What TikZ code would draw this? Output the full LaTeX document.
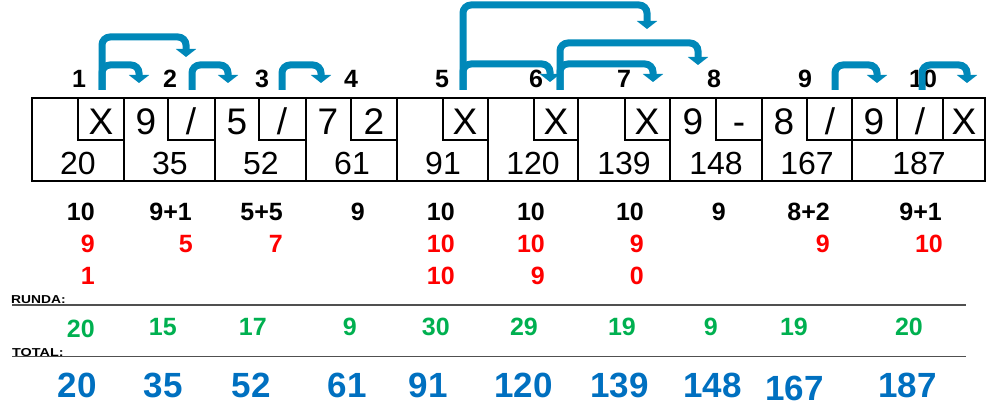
\documentclass[tikz,border=0pt]{standalone}
\usepackage{fontspec}
\setmainfont{Liberation Sans}
\usetikzlibrary{arrows.meta}
\definecolor{arrowblue}{RGB}{0,136,185}
\definecolor{pinred}{RGB}{255,0,0}
\definecolor{rundagreen}{RGB}{0,176,80}
\definecolor{totalblue}{RGB}{0,112,192}
\definecolor{rulegrey}{RGB}{80,80,80}

\begin{document}
\begin{tikzpicture}[
	x=1pt, y=-1pt,
	sheet line/.style={line width=2pt},
	roll arrow/.style={draw=arrowblue, line width=7pt, rounded corners=8pt,
		-{Triangle[width=20pt,length=8pt]}},
	frame label/.style={font=\fontsize{25}{25}\selectfont\bfseries, anchor=base, inner sep=0pt},
	mark node/.style={font=\fontsize{37}{37}\selectfont, anchor=base, inner sep=0pt},
	score node/.style={font=\fontsize{32}{32}\selectfont, anchor=base, inner sep=0pt},
	pins node/.style={font=\fontsize{25}{25}\selectfont\bfseries, anchor=base east, inner sep=0pt},
	total node/.style={font=\fontsize{35}{35}\selectfont\bfseries, anchor=base east, inner sep=0pt, text=totalblue},
	caption node/.style={font=\fontsize{11.5}{11.5}\selectfont\bfseries, anchor=base west, inner sep=0pt},
	rule line/.style={draw=rulegrey, line width=1.5pt}
	]
	\newcommand{\rollarrow}[3]{
		\draw[roll arrow] (#1) -- (#1 |- 0,#2) -| (#3);
	}
	\useasboundingbox (0,0) rectangle (990,414);

	% score sheet
	\draw[sheet line] (32,98) rectangle (985,181);
	\foreach \x in {124,215,306,397,488,578,670,762,852}
		\draw[sheet line] (\x,98) -- (\x,181);
	\foreach \x/\r in {78/124,168/215,259/306,351/397,443/488,534/578,625/670,716/762,807/852}
		\draw[sheet line] (\x,98) -- (\x,140) -- (\r,140);
	\draw[sheet line] (852,140) -- (985,140);
	\draw[sheet line] (897,98) -- (897,140);
	\draw[sheet line] (943,98) -- (943,140);

	\foreach \x/\m [count=\i] in {101/X,146/9,191/{/},237/5,282/{/},328/7,374/2,465/X,556/X,647/X,
		693/9,739/-,784/8,830/{/},874/9,920/{/},964/X}
		\node[mark node] (mark-\i) at (\x,135) {\m};
	\foreach \x/\s [count=\i] in {78/20,170/35,261/52,352/61,443/91,533/120,624/139,716/148,807/167,919/187}
		\node[score node] (score-\i) at (\x,175) {\s};

	% frame numbers
	\foreach \x [count=\i] in {79,170,262,351,442,536,624,714,805,923}
		\node[frame label] (frame-\i) at (\x,88) {\i};

	% bonus balls
	\coordinate (s1) at (102,90);
	\coordinate (s2) at (192,90);
	\coordinate (s3) at (282,90);
	\coordinate (s5) at (463,90);
	\coordinate (s6) at (560,90);
	\coordinate (s9) at (835,90);
	\coordinate (s10) at (922,90);
	\coordinate (t1a) at (139,83);
	\coordinate (t1b) at (186,57);
	\coordinate (t2) at (228,83);
	\coordinate (t3) at (321,83);
	\coordinate (t5a) at (550,82);
	\coordinate (t5b) at (647,29);
	\coordinate (t6a) at (653,82);
	\coordinate (t6b) at (698,65);
	\coordinate (t9) at (877,83);
	\coordinate (t10) at (967,83);
	\rollarrow{s1}{37}{t1b}
	\rollarrow{s1}{65}{t1a}
	\rollarrow{s2}{65}{t2}
	\rollarrow{s3}{65}{t3}
	\rollarrow{s5}{5}{t5b}
	\rollarrow{s5}{64}{t5a}
	\rollarrow{s6}{43}{t6b}
	\rollarrow{s6}{64}{t6a}
	\rollarrow{s9}{65}{t9}
	\rollarrow{s10}{65}{t10}

	% pins per ball
	\foreach \x/\p [count=\i] in {95/10,192/9+1,283/5+5,365/9,455/10,545/10,644/10,726/9,830/8+2,942/9+1}
		\node[pins node] (pins-\i) at (\x,220) {\p};
	\foreach \x/\p [count=\i] in {95/9,193/5,283/7,455/10,545/10,644/9,830/9,943/10}
		\node[pins node, text=pinred] (bonus-a-\i) at (\x,252) {\p};
	\foreach \x/\p [count=\i] in {95/1,455/10,545/9,644/0}
		\node[pins node, text=pinred] (bonus-b-\i) at (\x,284) {\p};

	% round and total
	\node[caption node] (runda) at (11,303) {\scalebox{1.2}[1]{RUNDA:}};
	\draw[rule line] (12,305) -- (966,305);
	\foreach \x/\p/\y [count=\i] in {95/20/337,177/15/335,267/17/335,357/9/335,450/30/335,538/29/335,
		636/19/335,718/9/335,808/19/335,923/20/335}
		\node[pins node, text=rundagreen] (round-\i) at (\x,\y) {\p};
	\node[caption node] (total) at (12,356) {\scalebox{1.25}[1]{TOTAL:}};
	\draw[rule line] (12,356.5) -- (966,356.5);
	\foreach \x/\p/\y [count=\i] in {97/20/397,183/35/397,271/52/397,367/61/397,448/91/397,553/120/397,
		649/139/397,742/148/397,824/167/400,937/187/397}
		\node[total node] (total-\i) at (\x,\y) {\p};
\end{tikzpicture}
\end{document}
